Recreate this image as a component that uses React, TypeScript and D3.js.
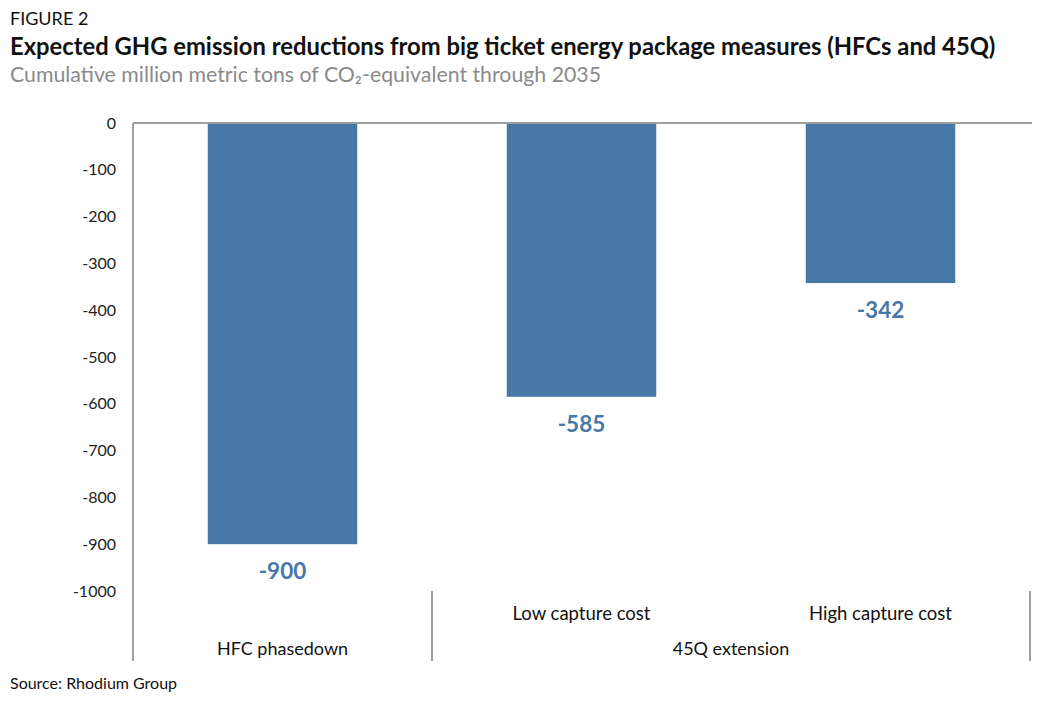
import React from "react";
import * as d3 from "d3";

const categories = ["HFC phasedown", "Low capture cost", "High capture cost"];
const values = [-900, -585, -342];
const groupLabels = ["HFC phasedown", "45Q extension"];
const yTicks = [0, -100, -200, -300, -400, -500, -600, -700, -800, -900, -1000];

const W = 1050, H = 714;
const FONT = "Lato, 'Open Sans', sans-serif";

export default function App() {
  const left = 133, right = 1030, top = 123, bottom = 591;
  const x = d3.scaleBand<string>().domain(categories).range([left, right]).paddingInner(0.5).paddingOuter(0.25);
  const y = d3.scaleLinear().domain([0, -1000]).range([top, bottom]);
  const barColor = "#4878a8";
  const axisColor = "#a0a0a0";
  const bandW = (right - left) / categories.length;
  return (
    <svg width={W} height={H} style={{ position: "absolute", left: 0, top: 0 }} fontFamily={FONT}>
      <rect x={0} y={0} width={W} height={H} fill="#fff" />
      <text x={10} y={25} fontSize={18} fill="#111">FIGURE 2</text>
      <text x={10} y={55} fontSize={23.8} fontWeight={700} fill="#111">Expected GHG emission reductions from big ticket energy package measures (HFCs and 45Q)</text>
      <text x={10} y={82} fontSize={21.3} fill="#8a8a8a">Cumulative million metric tons of CO₂-equivalent through 2035</text>
      {yTicks.map((t) => (
        <text key={t} x={116} y={y(t)} dy="0.35em" textAnchor="end" fontSize={16} fill="#222">{t}</text>
      ))}
      {categories.map((c, i) => (
        <g key={c}>
          <rect x={x(c)} y={y(0)} width={x.bandwidth()} height={y(values[i]) - y(0)} fill={barColor} />
          <text x={(x(c) as number) + x.bandwidth() / 2} y={y(values[i]) + 27} dy="0.35em" textAnchor="middle" fontSize={22.5} fontWeight={700} fill={barColor}>{values[i]}</text>
        </g>
      ))}
      <line x1={left} x2={right + 2} y1={y(0)} y2={y(0)} stroke={axisColor} strokeWidth={2} />
      <line x1={left} x2={left} y1={y(0)} y2={661} stroke={axisColor} strokeWidth={2} />
      <line x1={left + bandW} x2={left + bandW} y1={bottom} y2={661} stroke={axisColor} strokeWidth={2} />
      <line x1={right} x2={right} y1={bottom} y2={661} stroke={axisColor} strokeWidth={2} />
      {categories.slice(1).map((c) => (
        <text key={c} x={(x(c) as number) + x.bandwidth() / 2} y={614} dy="0.35em" textAnchor="middle" fontSize={18.5} fill="#111">{c}</text>
      ))}
      <text x={left + bandW / 2} y={649} dy="0.35em" textAnchor="middle" fontSize={18} fill="#111">{groupLabels[0]}</text>
      <text x={left + bandW * 2} y={649} dy="0.35em" textAnchor="middle" fontSize={18} fill="#111">{groupLabels[1]}</text>
      <text x={10} y={689} fontSize={16} fill="#111">Source: Rhodium Group</text>
    </svg>
  );
}
